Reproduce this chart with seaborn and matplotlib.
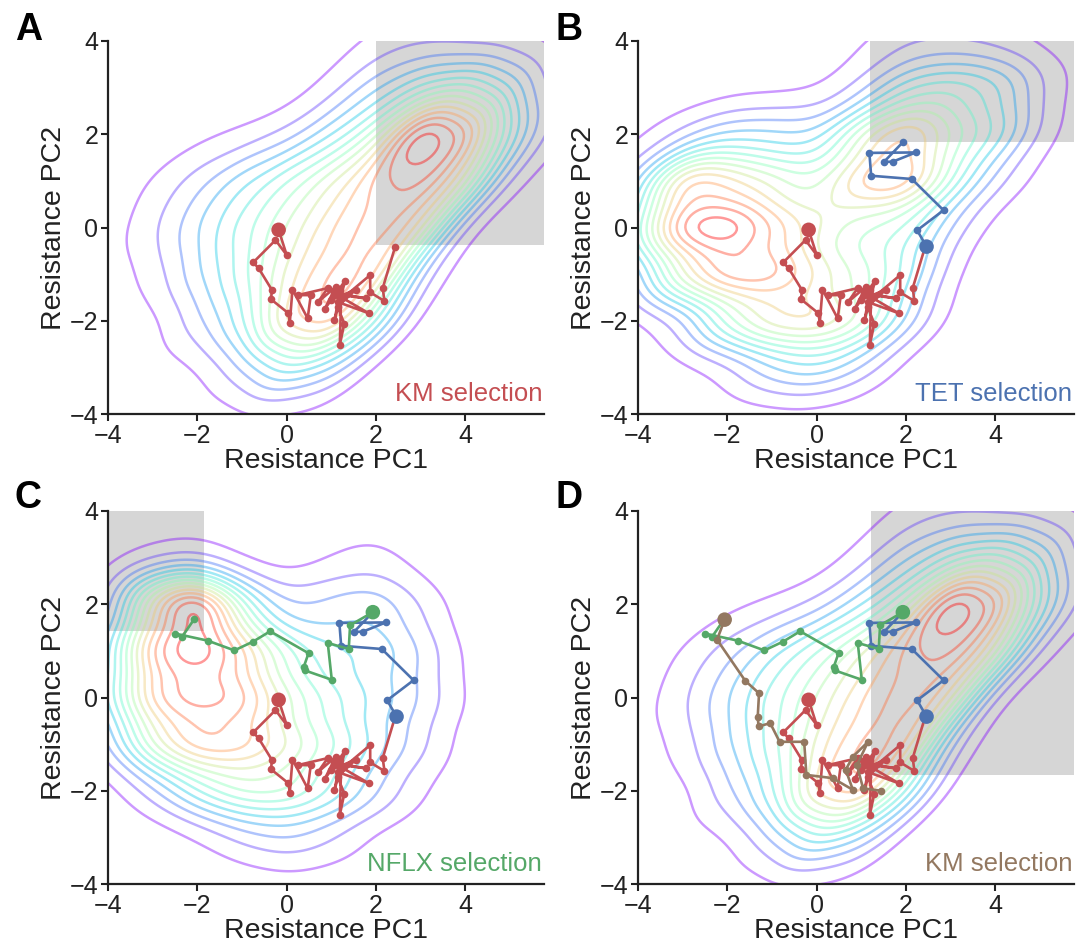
import numpy as np
import matplotlib
matplotlib.use("Agg")
import matplotlib.pyplot as plt
from matplotlib.patches import Rectangle
import seaborn as sns
from seaborn._statistics import KDE

sns.set_theme(style="ticks")
plt.rcParams["font.family"] = ["Liberation Sans", "DejaVu Sans"]

# ---------------- resistance landscapes: relative population density read on a 1-unit lattice ----------------
grid_pc1 = [-5, -4, -3, -2, -1, 0, 1, 2, 3, 4, 5, 6]
grid_pc2 = [5, 4, 3, 2, 1, 0, -1, -2, -3, -4]

km_density = [
    [0, 0, 0, 0, 0, 0, 0, 0, 0.2, 0, 0, 0],
    [0, 0, 0, 0, 0, 0, 0.1, 0.6, 0.8, 0.5, 0.3, 0],
    [0, 0, 0, 0, 0, 0, 0.6, 2.0, 3.4, 3.8, 2.4, 0.3],
    [0, 0, 0, 0.2, 0.4, 0.9, 2.4, 4.3, 10.5, 8.5, 3.2, 0.6],
    [0, 0, 0.5, 1.4, 2.7, 4.0, 5.6, 7.2, 8.0, 5.6, 0.5, 0],
    [0, 0.1, 0.9, 2.2, 3.6, 5.0, 6.5, 7.6, 6.0, 0.3, 0, 0],
    [0, 0, 0.5, 2.0, 3.6, 5.8, 7.3, 7.2, 1.0, 0, 0, 0],
    [0, 0, 0, 1.2, 3.0, 7.2, 8.0, 3.4, 0, 0, 0, 0],
    [0, 0, 0, 0.1, 1.0, 3.0, 2.0, 0, 0, 0, 0, 0],
    [0, 0, 0, 0, 0, 0.1, 0, 0, 0, 0, 0, 0],
]

tet_density = [
    [0, 0, 0, 0, 0, 0, 0, 0.1, 0.1, 0, 0, 0],
    [0, 0, 0, 0, 0, 0, 0.3, 0.9, 0.9, 0.6, 0.1, 0],
    [0, 0, 0, 0.1, 0.1, 0.2, 0.9, 3.0, 3.6, 3.0, 0.8, 0],
    [0, 0.2, 0.9, 2.0, 2.0, 1.6, 5.0, 7.4, 4.3, 3.4, 0.5, 0],
    [0.2, 1.3, 7.8, 6.0, 5.0, 3.6, 7.0, 7.8, 3.4, 1.0, 0.1, 0],
    [0.3, 3.0, 9.0, 9.2, 6.8, 5.0, 3.6, 3.6, 1.2, 0, 0, 0],
    [0, 0.8, 5.5, 8.0, 7.6, 5.6, 4.3, 3.0, 0.2, 0, 0, 0],
    [0, 0, 0.6, 4.0, 6.2, 6.5, 5.0, 1.8, 0, 0, 0, 0],
    [0, 0, 0, 0.3, 1.8, 2.6, 1.4, 0, 0, 0, 0, 0],
    [0, 0, 0, 0, 0, 0.1, 0, 0, 0, 0, 0, 0],
]

nflx_density = [
    [0, 0, 0, 0, 0, 0, 0, 0, 0, 0, 0, 0],
    [0, 0, 0, 0, 0, 0, 0, 0.1, 0, 0, 0, 0],
    [0, 0, 0.3, 0.6, 0.1, 0, 0.3, 0.6, 0.1, 0, 0, 0],
    [0, 0.2, 5.5, 10.0, 3.0, 1.0, 1.6, 2.0, 0.8, 0, 0, 0],
    [0.2, 1.5, 7.4, 8.2, 6.3, 3.4, 2.4, 2.4, 1.4, 0.1, 0, 0],
    [0.4, 2.0, 6.8, 7.2, 7.0, 4.3, 3.0, 2.2, 1.4, 0.2, 0, 0],
    [0.1, 0.9, 4.8, 6.8, 6.3, 5.0, 3.6, 2.2, 1.0, 0, 0, 0],
    [0, 0, 0.9, 2.8, 4.2, 4.2, 2.9, 1.4, 0.3, 0, 0, 0],
    [0, 0, 0, 0.2, 0.9, 1.4, 0.8, 0.1, 0, 0, 0, 0],
    [0, 0, 0, 0, 0, 0.1, 0, 0, 0, 0, 0, 0],
]

# ---------------- evolutionary trajectories ----------------
red_x = [-0.18, 0.00, -0.25, -0.75, -0.63, -0.33, -0.35, 0.04, 0.07, 0.13, 0.47, 0.54, 0.25, 0.92, 0.70,
         1.10, 0.85, 1.31, 1.07, 1.20, 1.00, 1.55, 1.14, 1.29, 1.19, 1.22, 1.78, 1.05, 1.84, 1.15, 1.87,
         1.87, 2.19, 2.15, 2.43]
red_y = [-0.05, -0.59, -0.27, -0.75, -0.87, -1.34, -1.54, -1.84, -2.04, -1.33, -1.95, -1.45, -1.45, -1.30,
         -1.60, -1.27, -1.75, -1.14, -1.99, -1.35, -1.55, -1.33, -1.70, -2.06, -2.52, -1.45, -1.52, -1.40,
         -1.84, -1.60, -1.02, -1.39, -1.58, -1.30, -0.41]

blue_x = [2.46, 2.25, 2.84, 2.13, 1.22, 1.18, 2.22, 1.70, 1.51, 1.93]
blue_y = [-0.41, -0.06, 0.37, 1.04, 1.11, 1.60, 1.61, 1.41, 1.41, 1.83]

green_x = [1.93, 1.42, 1.39, 0.92, 1.01, 0.41, 0.38, 0.49, -0.37, -0.75, -1.17, -1.77, -2.49, -2.35, -2.07]
green_y = [1.83, 1.55, 1.04, 1.17, 0.38, 0.58, 0.65, 0.95, 1.42, 1.20, 1.01, 1.22, 1.37, 1.29, 1.68]

brown_x = [-2.06, -2.23, -1.60, -1.29, -1.32, -1.30, -1.04, -0.83, -0.28, -0.23, 0.36, 0.81, 0.65, 0.81,
           1.15, 0.90, 1.04, 1.45]
brown_y = [1.67, 1.24, 0.36, 0.09, -0.42, -0.62, -0.55, -0.95, -0.95, -1.66, -1.73, -1.98, -1.55, -1.27,
           -0.95, -1.45, -1.95, -2.00]

# ---------------- selection windows (x0, x1, y0, y1) ----------------
win_A = (2.00, 5.75, -0.38, 4.0)
win_B = (1.20, 5.75, 1.83, 4.0)
win_C = (-4.0, -1.84, 1.43, 4.0)
win_D = (1.21, 5.75, -1.66, 4.0)

labels = ["KM selection", "TET selection", "NFLX selection", "KM selection"]
letters = ["A", "B", "C", "D"]

C_RED, C_BLUE, C_GREEN, C_BROWN = "#C44E52", "#4C72B0", "#55A868", "#937860"

trajs = {"red": (red_x, red_y, C_RED), "blue": (blue_x, blue_y, C_BLUE),
         "green": (green_x, green_y, C_GREEN), "brown": (brown_x, brown_y, C_BROWN)}

panels = [
    (km_density, win_A, ["red"], C_RED),
    (tet_density, win_B, ["red", "blue"], C_BLUE),
    (nflx_density, win_C, ["red", "blue", "green"], C_GREEN),
    (km_density, win_D, ["red", "blue", "green", "brown"], C_BROWN),
]

GX, GY = np.meshgrid(np.asarray(grid_pc1, float), np.asarray(grid_pc2, float))
KERNEL_SD = 0.57

W, H = 1087, 943
fig = plt.figure(figsize=(W / 100, H / 100), dpi=100)
lefts = [108, 638, 108, 638]
tops = [41, 41, 511, 511]
aw, ah = 435.5, 373
letter_pos = [(15, 12), (556, 12), (15, 480), (556, 480)]

for i, (land, win, tnames, lab_color) in enumerate(panels):
    ax = fig.add_axes([lefts[i] / W, 1 - (tops[i] + ah) / H, aw / W, ah / H])
    x0, x1, y0, y1 = win
    ax.add_patch(Rectangle((x0, y0), x1 - x0, y1 - y0, facecolor="#d6d6d6",
                           edgecolor="none", zorder=0.5))
    w = np.asarray(land, float).ravel()
    keep = w > 0
    px, py, pw = GX.ravel()[keep], GY.ravel()[keep], w[keep]
    cov = np.cov(np.vstack([px, py]), aweights=pw)
    factor = KERNEL_SD / np.sqrt(np.sqrt(np.linalg.det(cov)))
    kde = KDE(bw_method=factor, gridsize=250, cut=3)
    dens, (gx, gy) = kde(px, py, weights=pw)
    lv = np.linspace(0.05, 0.97, 15) * dens.max()
    ax.contour(gx, gy, dens, levels=lv, cmap="rainbow", alpha=0.4,
               linewidths=1.8, zorder=1)
    for k, name in enumerate(tnames):
        tx, ty, col = trajs[name]
        sns.lineplot(x=tx, y=ty, sort=False, estimator=None, color=col, lw=1.9,
                     marker="o", markersize=5.5, markeredgewidth=0, ax=ax, zorder=3 + k)
        sns.scatterplot(x=tx[:1], y=ty[:1], s=110, color=col, edgecolor="none",
                        ax=ax, zorder=3.5 + k)
    ax.set_xlim(-4, 5.75)
    ax.set_ylim(-4, 4)
    ax.set_xticks([-4, -2, 0, 2, 4])
    ax.set_yticks([-4, -2, 0, 2, 4])
    ax.tick_params(labelsize=18, width=1.5, length=5, color="#222222", pad=2,
                   labelcolor="#222222")
    for s in ["left", "bottom"]:
        ax.spines[s].set_linewidth(1.6)
        ax.spines[s].set_color("#222222")
    sns.despine(ax=ax)
    ax.set_xlabel("Resistance PC1", fontsize=20.5, color="#222222")
    ax.set_ylabel("Resistance PC2", fontsize=20.5, color="#222222")
    ax.xaxis.set_label_coords(0.5, -0.092)
    ax.yaxis.set_label_coords(-0.094, 0.5)
    ax.text(0.997, 0.035, labels[i], transform=ax.transAxes, ha="right", va="baseline",
            fontsize=18.5, color=lab_color, zorder=10)
    lx, ly = letter_pos[i]
    fig.text(lx / W, 1 - ly / H, letters[i], ha="left", va="top", fontsize=27,
             fontweight="bold", color="black")

fig.savefig("out.png", dpi=100)
